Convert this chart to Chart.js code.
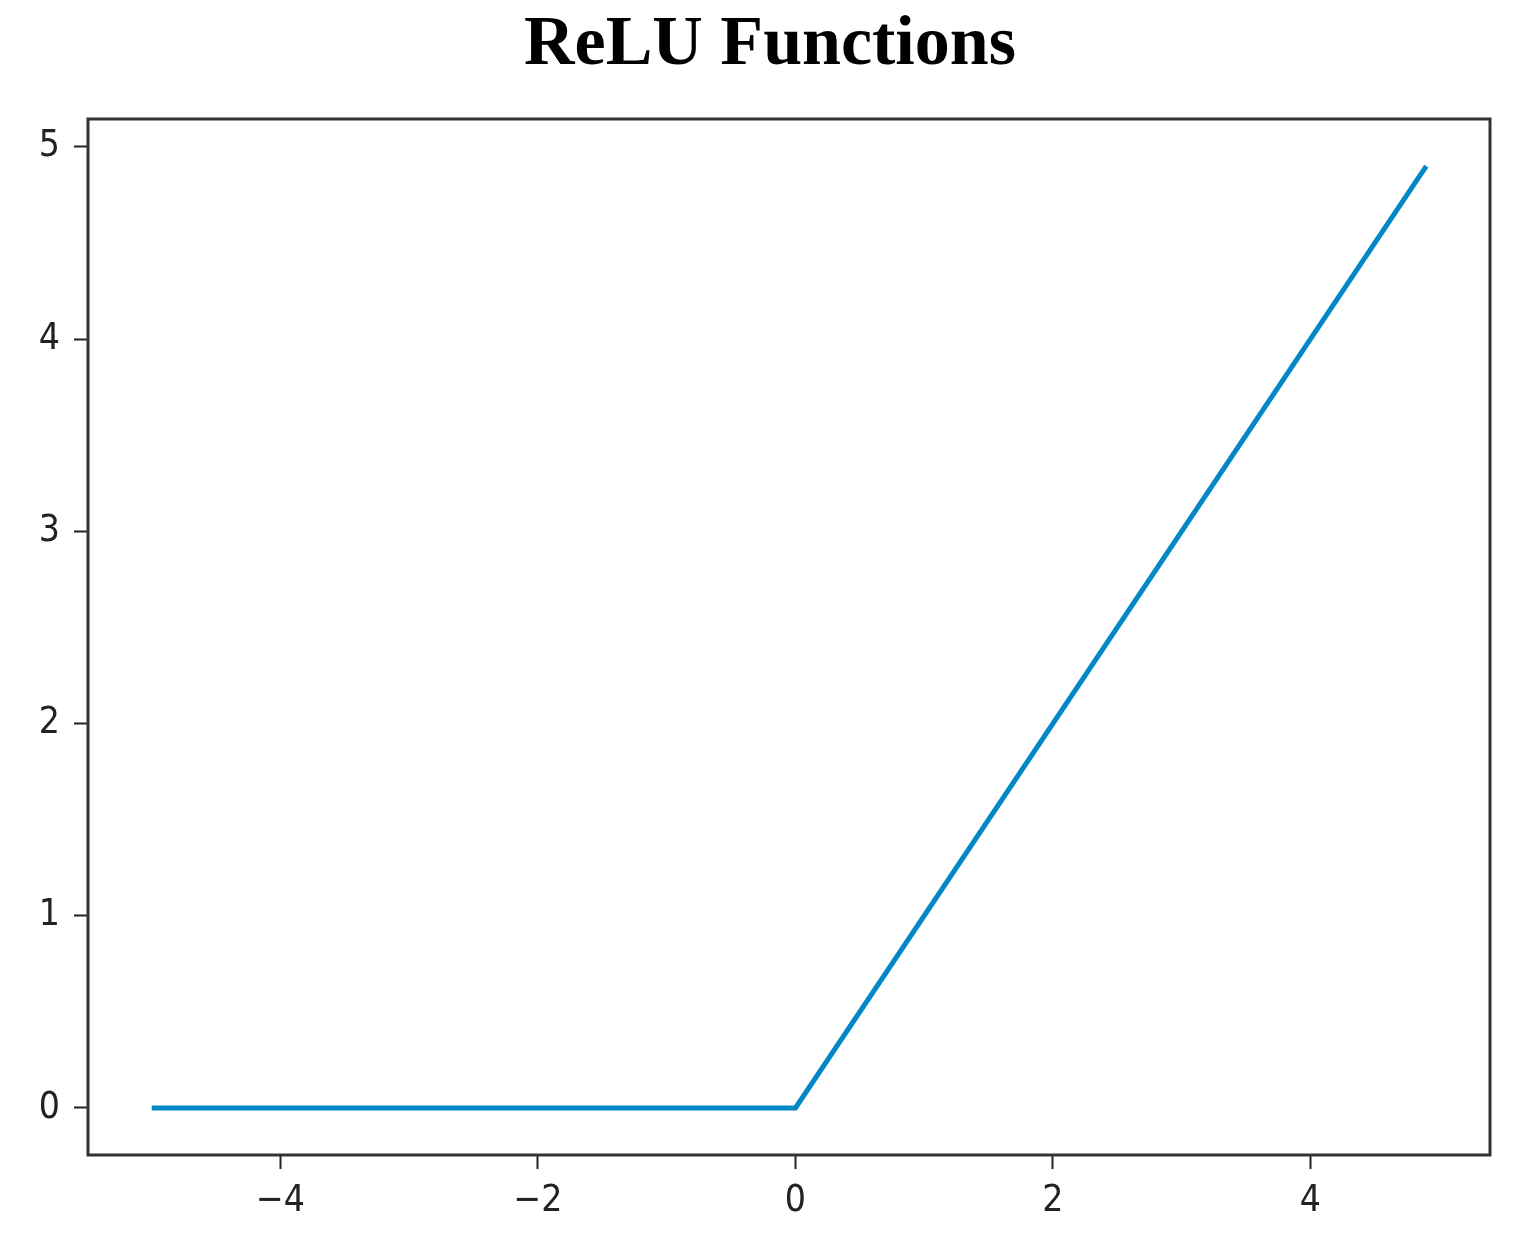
<!DOCTYPE html>
<html>
<head>
<meta charset="utf-8">
<script src="https://cdn.jsdelivr.net/npm/chart.js@4.4.1/dist/chart.umd.min.js"></script>
<style>
  html, body { margin: 0; padding: 0; background: #fff; overflow: hidden; }
  #wrap { width: 1526px; height: 1258px; position: relative; }
  #c { position: absolute; left: 0; top: 0; }
  #title {
    position: absolute; top: 6px; left: 770px; transform: translateX(-50%);
    font-family: "Liberation Serif", "Times New Roman", serif;
    font-weight: bold; font-size: 70px; line-height: 70px;
    color: #000; white-space: nowrap;
  }
</style>
</head>
<body>
<div id="wrap">
  <canvas id="c" width="1526" height="1258"></canvas>
  <div id="title"></div>
</div>
<script>
// Data (ReLU: flat at 0, then rising with slope 1)
const xValues = [-5, 0, 4.9];
const yValues = [0, 0, 4.9];
const xTickValues = [-4, -2, 0, 2, 4];
const yTickValues = [0, 1, 2, 3, 4, 5];
const chartTitle = 'ReLU Functions';

document.getElementById('title').textContent = chartTitle;

const points = xValues.map((x, i) => ({ x: x, y: yValues[i] }));

const framePlugin = {
  id: 'frame',
  afterDraw(chart) {
    const a = chart.chartArea, ctx = chart.ctx;
    ctx.save();
    ctx.strokeStyle = '#333';
    ctx.lineWidth = 3;
    ctx.strokeRect(a.left, a.top, a.right - a.left, a.bottom - a.top);
    ctx.restore();
  }
};

const tickFont = { family: '"DejaVu Sans Condensed", "DejaVu Sans", sans-serif', size: 37 };

new Chart(document.getElementById('c'), {
  type: 'line',
  data: {
    datasets: [{
      data: points,
      borderColor: '#0288c7',
      borderWidth: 5,
      pointRadius: 0,
      fill: false,
      tension: 0
    }]
  },
  options: {
    responsive: false,
    animation: false,
    layout: { padding: { left: 0, right: 36, top: 119, bottom: 0 } },
    plugins: {
      legend: { display: false },
      tooltip: { enabled: false },
      title: { display: false }
    },
    scales: {
      x: {
        type: 'linear',
        min: -5.495,
        max: 5.395,
        afterBuildTicks(scale) { scale.ticks = xTickValues.map(v => ({ value: v })); },
        afterFit(scale) { scale.height = 103; },
        grid: { drawOnChartArea: false, drawTicks: true, tickLength: 14, tickColor: '#222', tickWidth: 2 },
        border: { display: false },
        ticks: {
          color: '#222',
          font: tickFont,
          padding: 10,
          maxRotation: 0,
          callback: v => (v < 0 ? '\u2212' + Math.abs(v) : String(v))
        }
      },
      y: {
        type: 'linear',
        min: -0.245,
        max: 5.145,
        afterBuildTicks(scale) { scale.ticks = yTickValues.map(v => ({ value: v })); },
        afterFit(scale) { scale.width = 88; },
        grid: { drawOnChartArea: false, drawTicks: true, tickLength: 14, tickColor: '#222', tickWidth: 2 },
        border: { display: false },
        ticks: {
          color: '#222',
          font: tickFont,
          padding: 14,
          callback: v => String(v)
        }
      }
    }
  },
  plugins: [framePlugin]
});
</script>
</body>
</html>
